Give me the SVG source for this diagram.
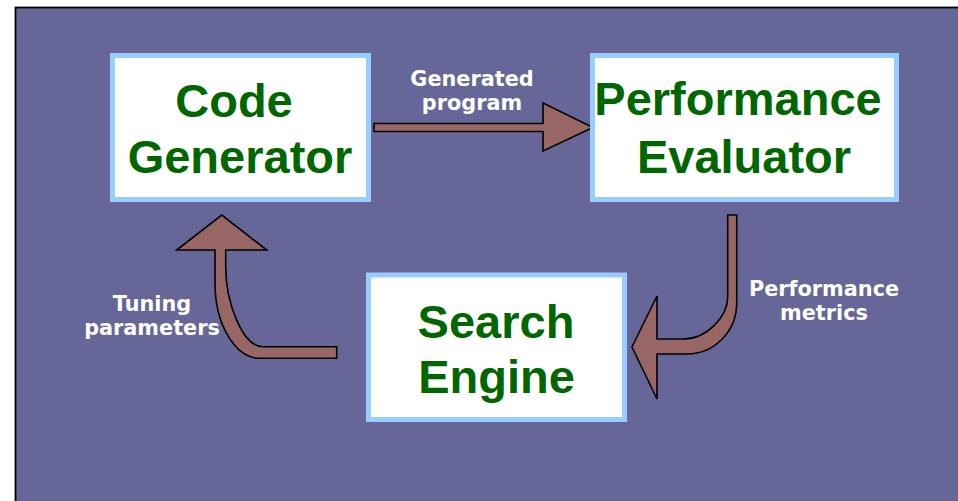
<svg xmlns="http://www.w3.org/2000/svg" width="958" height="501" viewBox="0 0 958 501">
<style>
.box{fill:#ffffff;stroke:#99CCFF;stroke-width:5}
.big{font-family:"Liberation Sans",Arial,sans-serif;font-weight:bold;font-size:47px;fill:#006600}
.lbl{font-family:"DejaVu Sans",Verdana,sans-serif;font-weight:bold;font-size:20.8px;fill:#ffffff;text-anchor:middle}
.arrow{fill:#996666;stroke:#000000;stroke-width:1.6;stroke-linejoin:miter}
</style>
<rect x="0" y="0" width="958" height="501" fill="#ffffff"/>
<rect x="15.5" y="7.5" width="950" height="500" fill="#666699" stroke="#000000" stroke-width="1.8"/>

<g id="connectors">
  <path id="c1" class="arrow" d="M374,123.5 L543,123.5 L543,103 L593,127.5 L543,151 L543,131.5 L374,131.5 Z"/>
  <path id="c2" class="arrow" d="M727.7,215 L736.7,215 L736.7,303 C736.7,331 714.5,354 687,354 L657,354 L657,399 L632,347 L657,296 L657,339 L683,339 C707.6,339 727.7,315.9 727.7,297 Z"/>
  <path id="c3" class="arrow" d="M221.7,215 L266.7,250 L225.7,250 L225.7,266.7 C225.7,302.5 242.4,346.7 263,346.7 L336.7,346.7 L336.7,358.3 L260,358.3 C235.2,358.3 215,324.4 215,283 L215,250 L176.7,250 Z"/>
  <text class="lbl" x="472" y="86">Generated</text>
  <text class="lbl" x="472" y="110">program</text>
  <text class="lbl" x="824" y="296">Performance</text>
  <text class="lbl" x="824" y="320">metrics</text>
  <text class="lbl" x="152" y="311">Tuning</text>
  <text class="lbl" x="152" y="335">parameters</text>
</g>

<g id="code-generator">
  <rect class="box" x="112.5" y="55.5" width="256" height="144"/>
  <text class="big" x="234" y="117" text-anchor="middle">Code</text>
  <text class="big" x="240" y="173" text-anchor="middle">Generator</text>
</g>

<g id="performance-evaluator">
  <rect class="box" x="592.5" y="55.5" width="304" height="144"/>
  <text class="big" x="738" y="115" text-anchor="middle">Performance</text>
  <text class="big" x="744" y="173" text-anchor="middle">Evaluator</text>
</g>

<g id="search-engine">
  <rect class="box" x="368.5" y="275" width="256" height="144.5"/>
  <text class="big" x="496" y="338" text-anchor="middle">Search</text>
  <text class="big" x="496.5" y="393" text-anchor="middle">Engine</text>
</g>
</svg>
